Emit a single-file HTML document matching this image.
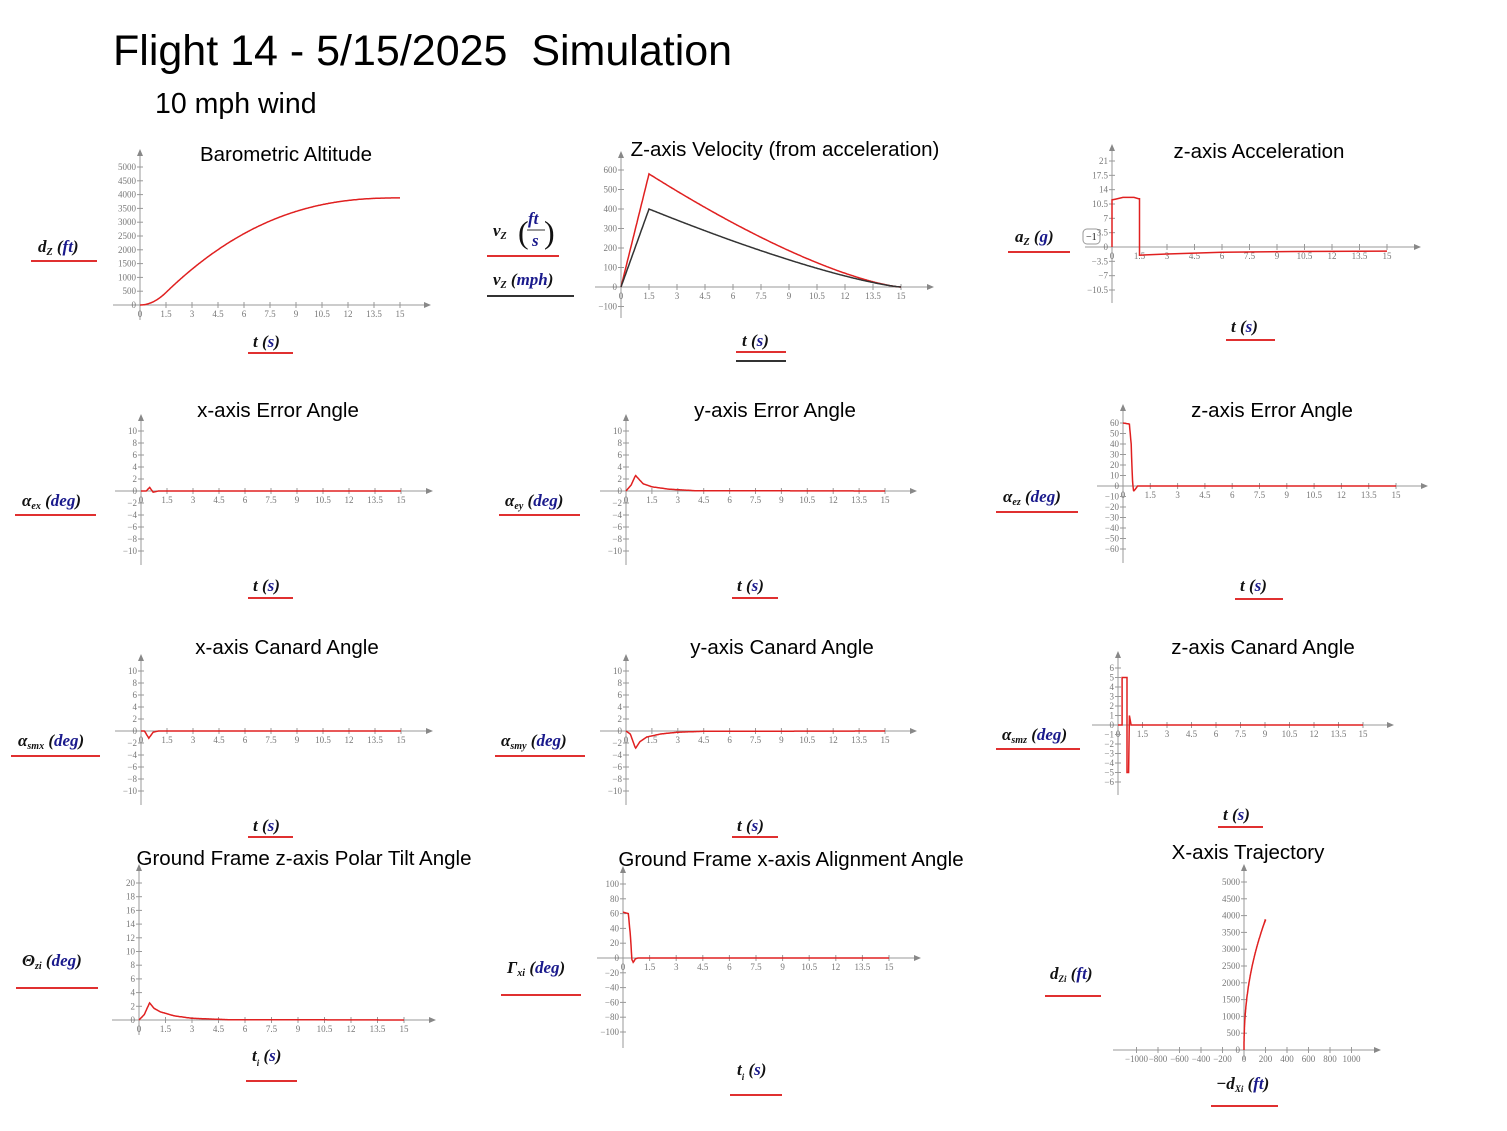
<!DOCTYPE html>
<html><head><meta charset="utf-8"><style>
body{margin:0;background:#fff;}
svg{display:block;}
.ti{font-family:"Liberation Sans",sans-serif;font-size:20.5px;fill:#000;text-anchor:middle;}
.lb{font-family:"Liberation Serif",serif;font-size:17px;font-weight:bold;font-style:italic;fill:#111;}
.u{fill:#1a1a8c;}
.tk{font-family:"Liberation Serif",serif;font-size:9px;fill:#777;}
</style></head><body>
<svg id="s" width="1507" height="1131" viewBox="0 0 1507 1131" xmlns="http://www.w3.org/2000/svg">
<rect width="1507" height="1131" fill="#fff"/>
<text x="113" y="65" font-family="Liberation Sans,sans-serif" font-size="43" fill="#000" xml:space="preserve">Flight 14 - 5/15/2025  Simulation</text>
<text x="155" y="113" font-family="Liberation Sans,sans-serif" font-size="28.5" fill="#000">10 mph wind</text>

<text class="ti" x="286" y="161">Barometric Altitude</text>
<text class="ti" x="785" y="156">Z-axis Velocity (from acceleration)</text>
<text class="ti" x="1259" y="158">z-axis Acceleration</text>
<text class="ti" x="278" y="417">x-axis Error Angle</text>
<text class="ti" x="775" y="417">y-axis Error Angle</text>
<text class="ti" x="1272" y="417">z-axis Error Angle</text>
<text class="ti" x="287" y="654">x-axis Canard Angle</text>
<text class="ti" x="782" y="654">y-axis Canard Angle</text>
<text class="ti" x="1263" y="654">z-axis Canard Angle</text>
<text class="ti" x="304" y="865">Ground Frame z-axis Polar Tilt Angle</text>
<text class="ti" x="791" y="866">Ground Frame x-axis Alignment Angle</text>
<text class="ti" x="1248" y="859">X-axis Trajectory</text>

<g id="labels">
<text class="lb" x="38" y="252">d<tspan font-size="10" dy="3">Z</tspan><tspan dy="-3"> (</tspan><tspan class="u">ft</tspan>)</text>
<text class="lb" x="493" y="236">v<tspan font-size="10" dy="3">Z</tspan><tspan dy="-3"> </tspan></text>
<text x="518" y="243" font-family="Liberation Serif,serif" font-size="32" fill="#111">(</text>
<text class="lb u" x="528" y="224" font-size="14">ft</text>
<line x1="527" y1="230" x2="545" y2="230" stroke="#333"/>
<text class="lb u" x="532" y="246" font-size="14">s</text>
<text x="544" y="243" font-family="Liberation Serif,serif" font-size="32" fill="#111">)</text>
<text class="lb" x="493" y="285">v<tspan font-size="10" dy="3">Z</tspan><tspan dy="-3"> (</tspan><tspan class="u">mph</tspan>)</text>
<text class="lb" x="1015" y="242">a<tspan font-size="10" dy="3">Z</tspan><tspan dy="-3"> (</tspan><tspan class="u">g</tspan>)</text>
<rect x="1083" y="229" width="17" height="15" rx="4" fill="#fff" stroke="#999"/>
<text x="1086" y="240" font-family="Liberation Serif,serif" font-size="10" fill="#111">−1</text>
<text class="lb" x="22" y="506">α<tspan font-size="10" dy="3">ex</tspan><tspan dy="-3"> (</tspan><tspan class="u">deg</tspan>)</text>
<text class="lb" x="505" y="506">α<tspan font-size="10" dy="3">ey</tspan><tspan dy="-3"> (</tspan><tspan class="u">deg</tspan>)</text>
<text class="lb" x="1003" y="502">α<tspan font-size="10" dy="3">ez</tspan><tspan dy="-3"> (</tspan><tspan class="u">deg</tspan>)</text>
<text class="lb" x="18" y="746">α<tspan font-size="10" dy="3">smx</tspan><tspan dy="-3"> (</tspan><tspan class="u">deg</tspan>)</text>
<text class="lb" x="501" y="746">α<tspan font-size="10" dy="3">smy</tspan><tspan dy="-3"> (</tspan><tspan class="u">deg</tspan>)</text>
<text class="lb" x="1002" y="740">α<tspan font-size="10" dy="3">smz</tspan><tspan dy="-3"> (</tspan><tspan class="u">deg</tspan>)</text>
<text class="lb" x="22" y="966">Θ<tspan font-size="10" dy="3">zi</tspan><tspan dy="-3"> (</tspan><tspan class="u">deg</tspan>)</text>
<text class="lb" x="507" y="973">Γ<tspan font-size="10" dy="3">xi</tspan><tspan dy="-3"> (</tspan><tspan class="u">deg</tspan>)</text>
<text class="lb" x="1050" y="979" font-size="14">d<tspan font-size="9" dy="3">Zi</tspan><tspan dy="-3"> (</tspan><tspan class="u">ft</tspan>)</text>
<text class="lb" x="253" y="347">t (<tspan class="u">s</tspan>)</text>
<text class="lb" x="742" y="346">t (<tspan class="u">s</tspan>)</text>
<text class="lb" x="1231" y="332">t (<tspan class="u">s</tspan>)</text>
<text class="lb" x="253" y="591">t (<tspan class="u">s</tspan>)</text>
<text class="lb" x="737" y="591">t (<tspan class="u">s</tspan>)</text>
<text class="lb" x="1240" y="591">t (<tspan class="u">s</tspan>)</text>
<text class="lb" x="253" y="831">t (<tspan class="u">s</tspan>)</text>
<text class="lb" x="737" y="831">t (<tspan class="u">s</tspan>)</text>
<text class="lb" x="1223" y="820">t (<tspan class="u">s</tspan>)</text>
<text class="lb" x="252" y="1061">t<tspan font-size="9" dy="5">i</tspan><tspan dy="-5"> (</tspan><tspan class="u">s</tspan>)</text>
<text class="lb" x="737" y="1075">t<tspan font-size="9" dy="5">i</tspan><tspan dy="-5"> (</tspan><tspan class="u">s</tspan>)</text>
<text class="lb" x="1216" y="1089" font-size="14">−d<tspan font-size="9" dy="3">Xi</tspan><tspan dy="-3"> (</tspan><tspan class="u">ft</tspan>)</text>
</g>
<g id="ul" stroke="#e03030" stroke-width="2">
<line x1="31" y1="261" x2="97" y2="261"/>
<line x1="487" y1="256" x2="559" y2="256"/>
<line x1="487" y1="296" x2="574" y2="296" stroke="#333"/>
<line x1="1008" y1="252" x2="1070" y2="252"/>
<line x1="15" y1="515" x2="96" y2="515"/>
<line x1="499" y1="515" x2="580" y2="515"/>
<line x1="996" y1="512" x2="1078" y2="512"/>
<line x1="11" y1="756" x2="100" y2="756"/>
<line x1="495" y1="756" x2="585" y2="756"/>
<line x1="996" y1="749" x2="1080" y2="749"/>
<line x1="16" y1="988" x2="98" y2="988"/>
<line x1="501" y1="995" x2="581" y2="995"/>
<line x1="1045" y1="996" x2="1101" y2="996"/>
<line x1="248" y1="353" x2="293" y2="353"/>
<line x1="736" y1="352" x2="786" y2="352"/>
<line x1="736" y1="361" x2="786" y2="361" stroke="#333"/>
<line x1="1226" y1="340" x2="1275" y2="340"/>
<line x1="248" y1="598" x2="293" y2="598"/>
<line x1="732" y1="598" x2="778" y2="598"/>
<line x1="1235" y1="599" x2="1283" y2="599"/>
<line x1="248" y1="837" x2="293" y2="837"/>
<line x1="732" y1="837" x2="778" y2="837"/>
<line x1="1218" y1="827" x2="1263" y2="827"/>
<line x1="246" y1="1081" x2="297" y2="1081"/>
<line x1="730" y1="1095" x2="782" y2="1095"/>
<line x1="1211" y1="1106" x2="1278" y2="1106"/>
</g>
<g id="plots"></g>
</svg>
<script>
var NS="http://www.w3.org/2000/svg",G=document.getElementById("plots");
function el(t,a,txt){var e=document.createElementNS(NS,t);for(var k in a)e.setAttribute(k,a[k]);if(txt!=null)e.textContent=txt;G.appendChild(e);return e;}
function fmt(v){var s=(Math.round(v*10)/10).toString();return s.replace("-","−");}
function interp(pts,t){if(t<=pts[0][0])return pts[0][1];for(var i=1;i<pts.length;i++){if(t<=pts[i][0]){var a=pts[i-1],b=pts[i];if(b[0]==a[0])return b[1];return a[1]+(b[1]-a[1])*(t-a[0])/(b[0]-a[0]);}}return pts[pts.length-1][1];}
function P(o){
 var X=function(v){return o.ox+v*o.sx},Y=function(v){return o.oy-v*o.sy};
 el("line",{x1:o.ax0,y1:o.oy,x2:o.ax1,y2:o.oy,stroke:"#999","stroke-width":1});
 el("line",{x1:o.ox,y1:o.ay1,x2:o.ox,y2:o.ay0,stroke:"#999","stroke-width":1});
 el("path",{d:"M"+(o.ax1+6)+","+o.oy+"l-7,-3v6z",fill:"#888"});
 el("path",{d:"M"+o.ox+","+(o.ay0-6)+"l-3,7h6z",fill:"#888"});
 o.xt.forEach(function(v){var x=X(v);el("line",{x1:x,y1:o.oy-3,x2:x,y2:o.oy+3,stroke:"#999"});
  el("text",{x:x,y:o.oy+12,"class":"tk","text-anchor":"middle"},fmt(v));});
 o.yt.forEach(function(v){var y=Y(v);el("line",{x1:o.ox-3,y1:y,x2:o.ox+3,y2:y,stroke:"#999"});
  el("text",{x:o.ox-4,y:y+3,"class":"tk","text-anchor":"end"},fmt(v));});
 o.s.forEach(function(s){var d="";
  if(s.pts){s.pts.forEach(function(p,i){d+=(i?"L":"M")+X(p[0]).toFixed(1)+","+Y(p[1]).toFixed(1);});}
  else{for(var i=0;i<=s.n;i++){var t=s.a+(s.b-s.a)*i/s.n,p=s.f(t);d+=(i?"L":"M")+X(p[0]).toFixed(1)+","+Y(p[1]).toFixed(1);}}
  el("path",{d:d,fill:"none",stroke:s.c||"#e02020","stroke-width":1.5});});
}
function rng(a,b,s){var r=[];for(var v=a;v<=b+1e-9;v+=s)r.push(Math.round(v*100)/100);return r;}
var T=rng(0,15,1.5);
function V(t){return t<1.5?t/1.5*580:580*Math.pow(Math.max(0,1-(t-1.5)/13.5),1.4);}
var HT=[],acc=0,dt=0.01;for(var i=0;i<=1500;i++){HT.push(acc);acc+=V(i*dt)*dt;}
var sc=3880/HT[1500];
function H(t){var i=Math.min(1500,Math.max(0,Math.round(t/dt)));return HT[i]*sc;}
function F(pts){return function(t){return [t,interp(pts,t)];};}
P({ox:140,oy:305,sx:260/15,sy:138/5000,ax0:113,ax1:425,ay0:155,ay1:320,xt:T,yt:rng(0,5000,500),s:[{a:0,b:15,n:300,f:function(t){return [t,H(t)]}}]});
P({ox:621,oy:287,sx:280/15,sy:0.195,ax0:595,ax1:928,ay0:157,ay1:318,xt:T,yt:rng(-100,600,100),s:[
 {a:0,b:15,n:300,f:function(t){return [t,V(t)]}},
 {a:0,b:15,n:300,c:"#333",f:function(t){return [t,t<1.5?t/1.5*400:400*Math.pow(1-(t-1.5)/13.5,1.3)]}}]});
P({ox:1112,oy:247,sx:275/15,sy:86/21,ax0:1085,ax1:1415,ay0:150,ay1:303,xt:T,yt:rng(-10.5,21,3.5),s:[{pts:[[0,0],[0,11.5],[0.2,11.7],[0.6,12.1],[1.2,12.1],[1.45,11.8],[1.5,11.8],[1.5,-2],[3,-1.7],[6,-1.3],[10,-1.1],[15,-1]]}]});
P({ox:141,oy:491,sx:260/15,sy:6,ax0:115,ax1:427,ay0:420,ay1:565,xt:T,yt:rng(-10,10,2),s:[{a:0,b:15,n:300,f:F([[0,0],[0.3,0],[0.5,0.6],[0.7,-0.2],[1,0],[15,0]])}]});
P({ox:626,oy:491,sx:259/15,sy:6,ax0:600,ax1:911,ay0:420,ay1:565,xt:T,yt:rng(-10,10,2),s:[{a:0,b:15,n:400,f:F([[0,0],[0.3,1],[0.55,2.6],[0.8,1.8],[1,1.2],[1.5,0.7],[2.5,0.3],[4,0.05],[15,0]])}]});
P({ox:1123,oy:486,sx:273/15,sy:1.05,ax0:1097,ax1:1422,ay0:410,ay1:563,xt:T,yt:rng(-60,60,10),s:[{a:0,b:15,n:600,f:F([[0,60],[0.35,59],[0.45,40],[0.52,5],[0.58,-5],[0.68,-3],[0.8,0],[15,0]])}]});
P({ox:141,oy:731,sx:260/15,sy:6,ax0:115,ax1:427,ay0:660,ay1:805,xt:T,yt:rng(-10,10,2),s:[{a:0,b:15,n:400,f:F([[0,0],[0.2,0],[0.45,-1.2],[0.7,-0.2],[1,0],[15,0]])}]});
P({ox:626,oy:731,sx:259/15,sy:6,ax0:600,ax1:911,ay0:660,ay1:805,xt:T,yt:rng(-10,10,2),s:[{a:0,b:15,n:400,f:F([[0,0],[0.25,-0.5],[0.55,-2.9],[0.8,-1.8],[1.2,-1],[2,-0.5],[3,-0.2],[4.5,-0.05],[15,0]])}]});
P({ox:1118,oy:725,sx:245/15,sy:9.5,ax0:1092,ax1:1388,ay0:657,ay1:795,xt:T,yt:rng(-6,6,1),s:[{pts:[[0,0],[0.25,0],[0.25,5],[0.55,5],[0.55,-5],[0.65,-5],[0.7,1],[0.8,0],[15,0]]}]});
P({ox:139,oy:1020,sx:265/15,sy:6.85,ax0:112,ax1:430,ay0:870,ay1:1035,xt:T,yt:rng(0,20,2),s:[{a:0,b:15,n:400,f:F([[0,0],[0.3,0.8],[0.6,2.5],[0.85,1.7],[1.2,1.2],[2,0.6],[3,0.25],[5,0.05],[15,0]])}]});
P({ox:623,oy:958,sx:266/15,sy:0.74,ax0:597,ax1:915,ay0:872,ay1:1048,xt:T,yt:rng(-100,100,20),s:[{a:0,b:15,n:600,f:F([[0,62],[0.3,60],[0.42,30],[0.5,-2],[0.58,-6],[0.7,-1],[0.85,0],[15,0]])}]});
P({ox:1244,oy:1050,sx:0.1075,sy:0.0336,ax0:1113,ax1:1375,ay0:870,ay1:1060,xt:rng(-1000,1000,200),yt:rng(0,5000,500),s:[{a:0,b:15,n:300,f:function(t){var h=H(t),r=h/3880;return [200*Math.pow(r,2.2),h]}}]});
</script>
</body></html>
